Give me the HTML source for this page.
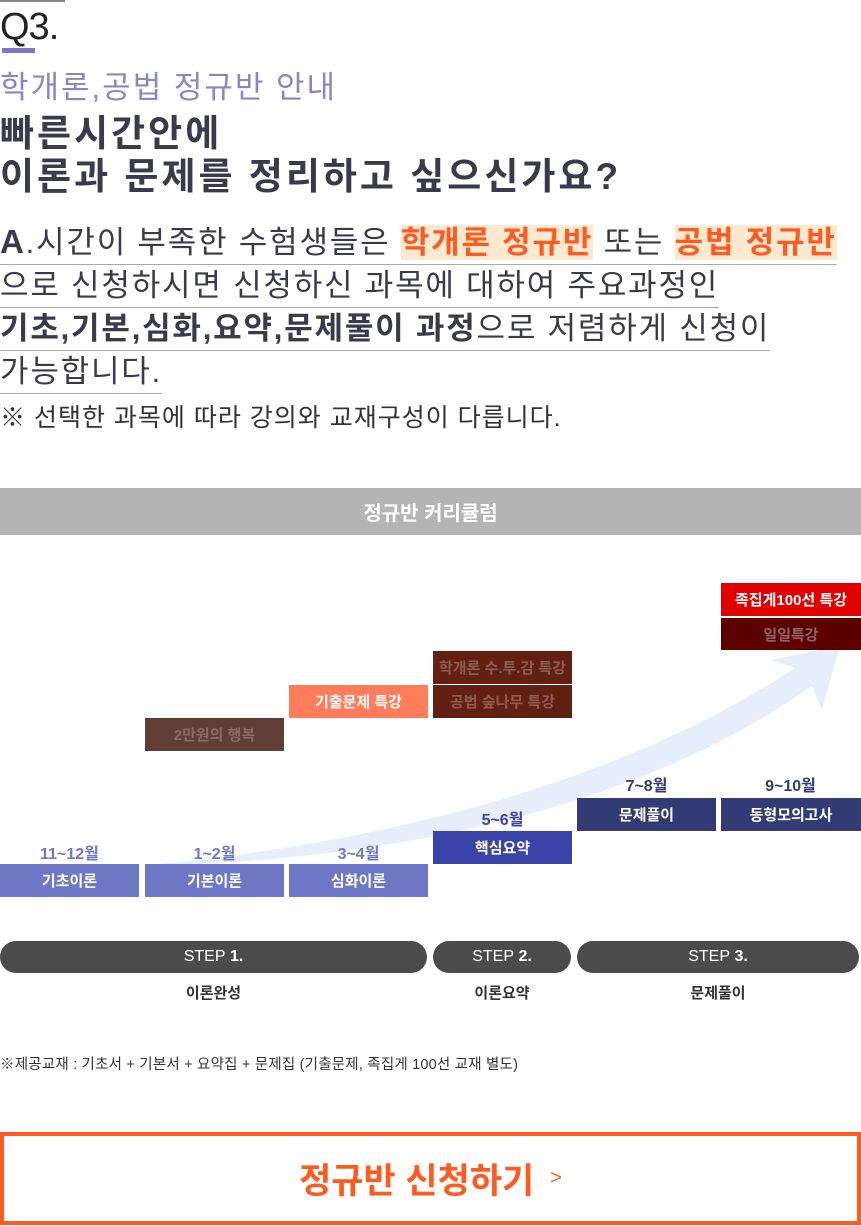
<!DOCTYPE html>
<html><head><meta charset="utf-8">
<style>
*{margin:0;padding:0;box-sizing:border-box}
body{width:861px;height:1226px;position:relative;background:#fff;font-family:"Liberation Sans","Noto Sans CJK KR",sans-serif;overflow:hidden}
.a{position:absolute;white-space:nowrap}
.box{position:absolute;width:139px;height:33px;display:flex;align-items:center;justify-content:center;font-size:15px;font-weight:bold;color:#fff}
.mo{position:absolute;width:139px;text-align:center;font-size:16px;font-weight:bold}
.pl{line-height:42px;border-bottom:1.5px solid #a8a8b0;display:inline-block}
.pill{position:absolute;top:941px;height:32px;background:#4b4b4b;border-radius:16px;color:#fff;font-size:16px;display:flex;align-items:center;justify-content:center}
.lab{position:absolute;top:982px;font-size:15px;font-weight:bold;color:#333;text-align:center}
</style></head><body>
<div class="a" style="left:0;top:0;width:65px;height:2px;background:#888"></div>
<div class="a" style="left:0;top:6px;font-size:38px;font-weight:300;color:#222;letter-spacing:-1px">Q3.</div>
<div class="a" style="left:2px;top:48px;width:33px;height:5px;background:#7e77c4"></div>
<div class="a" style="left:0;top:62px;font-size:31px;color:#8a84c8;letter-spacing:2px">학개론,공법 정규반 안내</div>
<div class="a" style="left:0;top:112px;font-size:37px;font-weight:bold;color:#3a3a4c;line-height:43px;letter-spacing:3px">빠른시간안에<br>이론과 문제를 정리하고 싶으신가요?</div>
<div class="a" style="left:0;top:221px;font-size:31px;color:#3a3a4c;line-height:42px;letter-spacing:1.8px">
<span class="pl"><b style="font-size:33px">A</b>.시간이 부족한 수험생들은 <b style="color:#ff5a1f;background:#fde8d0">학개론 정규반</b> 또는 <b style="color:#ff5a1f;background:#fde8d0">공법 정규반</b></span><br>
<span class="pl">으로 신청하시면 신청하신 과목에 대하여 주요과정인</span><br>
<span class="pl"><b>기초,기본,심화,요약,문제풀이 과정</b>으로 저렴하게 신청이</span><br>
<span class="pl">가능합니다.</span></div>
<div class="a" style="left:0;top:398px;font-size:25px;color:#333;letter-spacing:1px">※ 선택한 과목에 따라 강의와 교재구성이 다릅니다.</div>
<div class="a" style="left:0;top:488px;width:861px;height:47px;background:#b4b4b4;color:#fff;font-size:20px;font-weight:bold;display:flex;align-items:center;justify-content:center">정규반 커리큘럼</div>
<svg class="a" style="left:0;top:0" width="861" height="1226">
<path d="M140 866 C420 840 640 770 795 668 L770 660 L840 646 L822 710 L812 686 C650 800 420 860 140 866Z" fill="#e6edfb"/>
</svg>
<div class="mo" style="left:0;top:840px;color:#6f78c6">11~12월</div>
<div class="mo" style="left:145px;top:840px;color:#6f78c6">1~2월</div>
<div class="mo" style="left:289px;top:840px;color:#6f78c6">3~4월</div>
<div class="mo" style="left:433px;top:806px;color:#3a44a8">5~6월</div>
<div class="mo" style="left:577px;top:772px;color:#333c70">7~8월</div>
<div class="mo" style="left:721px;top:772px;color:#333c70">9~10월</div>
<div class="box" style="left:0;top:864px;background:#6e78c6">기초이론</div>
<div class="box" style="left:145px;top:864px;background:#6e78c6">기본이론</div>
<div class="box" style="left:289px;top:864px;background:#6e78c6">심화이론</div>
<div class="box" style="left:433px;top:831px;background:#3a44a8">핵심요약</div>
<div class="box" style="left:577px;top:798px;background:#333b74">문제풀이</div>
<div class="box" style="left:721px;top:798px;width:140px;background:#333b74">동형모의고사</div>
<div class="box" style="left:145px;top:718px;background:#603d35;color:#8c6b63">2만원의 행복</div>
<div class="box" style="left:289px;top:685px;background:#ff7d5a">기출문제 특강</div>
<div class="box" style="left:433px;top:651px;background:#622013;color:#8e5d52">학개론 수.투.감 특강</div>
<div class="box" style="left:433px;top:685px;background:#622013;color:#8e5d52">공법 숲나무 특강</div>
<div class="box" style="left:721px;top:583px;width:140px;background:#e00000">족집게100선 특강</div>
<div class="box" style="left:721px;top:618px;width:140px;height:32px;background:#5c0000;color:#8f6666">일일특강</div>
<div class="pill" style="left:0;width:427px">STEP&nbsp;<b>1.</b></div>
<div class="pill" style="left:433px;width:138px">STEP&nbsp;<b>2.</b></div>
<div class="pill" style="left:577px;width:282px">STEP&nbsp;<b>3.</b></div>
<div class="lab" style="left:0;width:427px">이론완성</div>
<div class="lab" style="left:433px;width:138px">이론요약</div>
<div class="lab" style="left:577px;width:282px">문제풀이</div>
<div class="a" style="left:0;top:1053px;font-size:14.5px;color:#333;letter-spacing:0.2px">※제공교재 : 기초서 + 기본서 + 요약집 + 문제집 (기출문제, 족집게 100선 교재 별도)</div>
<div class="a" style="left:0;top:1132px;width:861px;height:93px;border:4px solid #ff5a1f;display:flex;align-items:center;justify-content:center;color:#ff5a1f;font-size:35px;font-weight:bold">정규반 신청하기 <span style="font-size:20px;font-weight:normal;margin-left:16px">&gt;</span></div>
</body></html>
